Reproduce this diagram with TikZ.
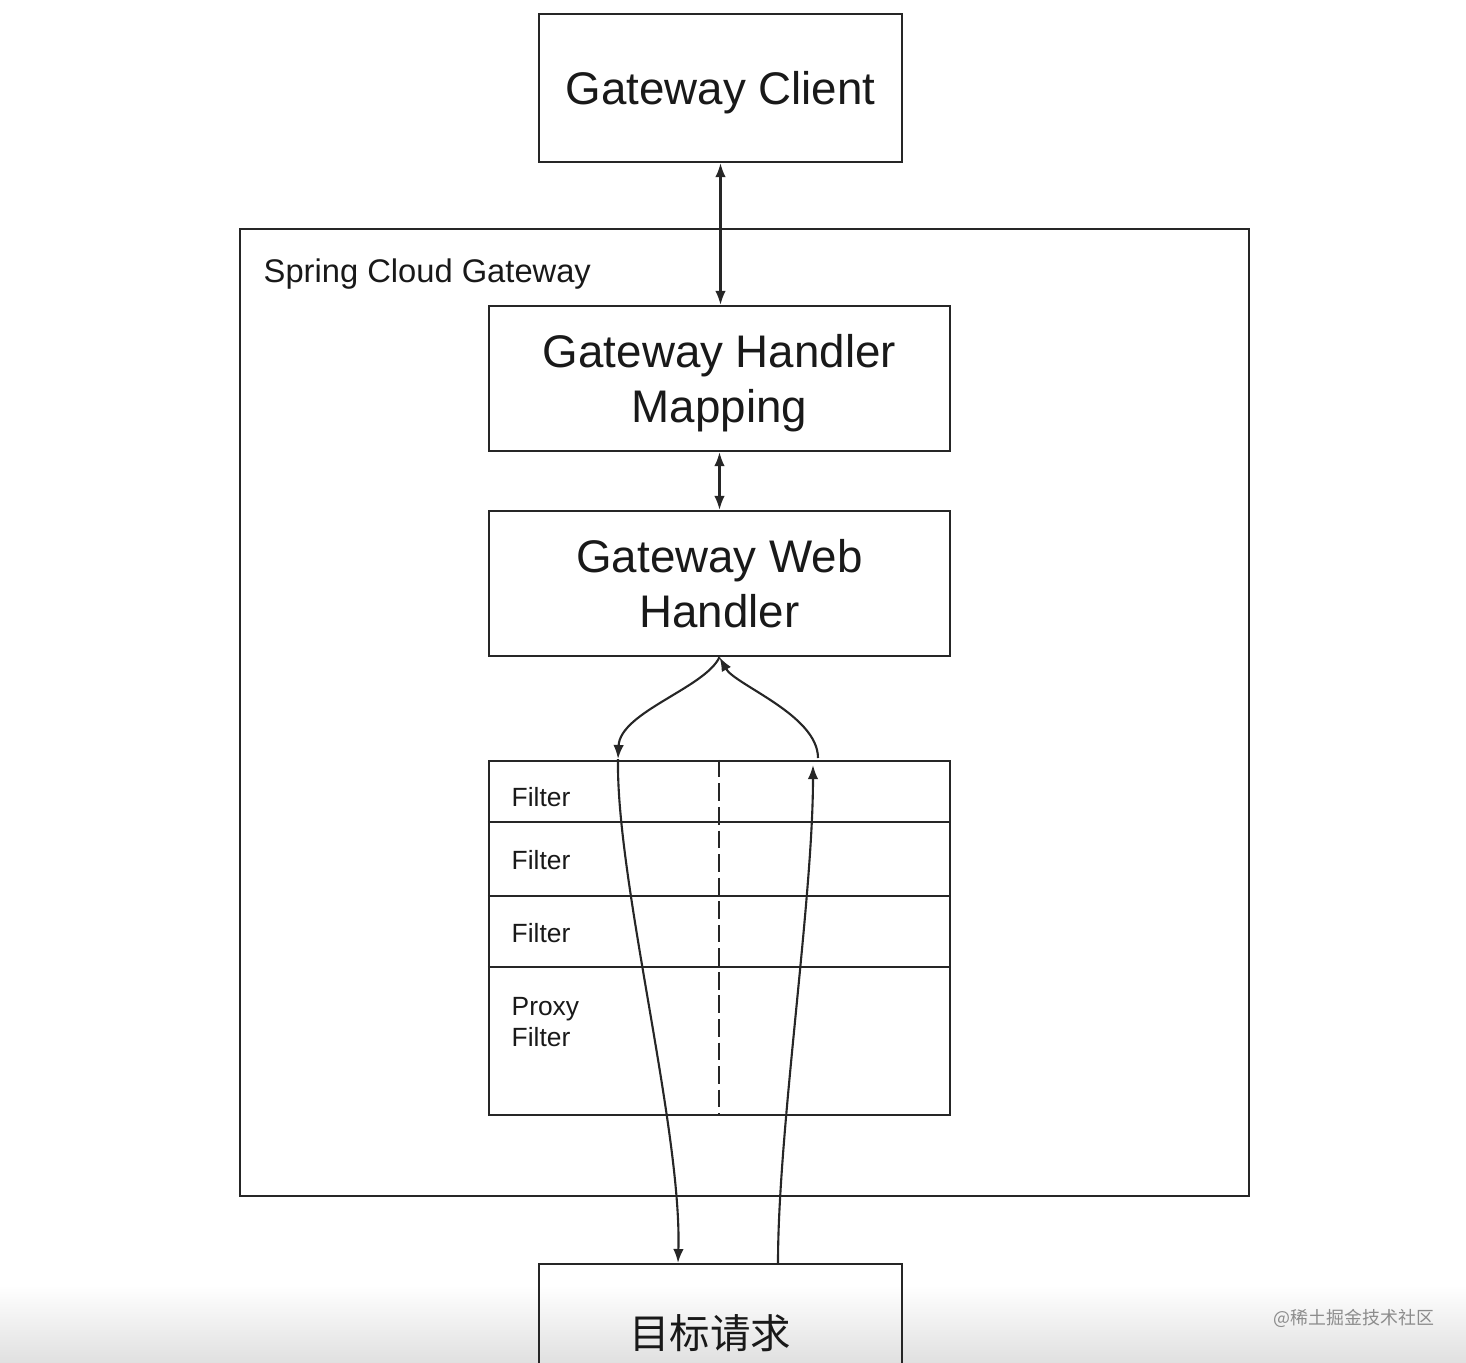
\documentclass[tikz,border=0pt]{standalone}
\usepackage{fontspec}
\setmainfont{Liberation Sans}
\newfontfamily\cjk{Noto Sans CJK SC}
\usepackage{tikz}
\usetikzlibrary{positioning,arrows.meta,calc}

\tikzset{
  box/.style={draw=black!85,line width=0.6pt,inner sep=0pt,align=center,text depth=0pt,text=black!90,font=\fontsize{13}{15.6}\selectfont},
  flt/.style={anchor=west,align=left,inner sep=0pt,text=black!90,font=\fontsize{7.5}{9}\selectfont},
  link/.style={draw=black!85,line width=0.6pt},
  arr/.style={link,-{Latex[length=4pt,width=3pt]}},
  dbl/.style={link,{Latex[length=4pt,width=3pt]}-{Latex[length=4pt,width=3pt]}}
}

\begin{document}
\begin{tikzpicture}[x=0.01cm,y=-0.01cm]
\useasboundingbox (0,0) rectangle (1466,1362);
\clip (0,0) rectangle (1466,1362);
\shade[top color=white,bottom color=black!12] (0,1285) rectangle (1466,1362);

\node[box,minimum width=3.63cm,minimum height=1.48cm] (client) at (720.5,88) {Gateway Client};
\node[draw=black!85,line width=0.6pt,minimum width=10.09cm,minimum height=9.67cm,inner sep=0pt] (gateway) at (744.5,712.5) {};
\node[anchor=west,inner sep=0pt,text=black!90,font=\fontsize{9.3}{11}\selectfont] (gwlabel) at (263,274) {Spring Cloud Gateway};
\node[box,minimum width=4.61cm,minimum height=1.45cm] (mapping) at (719.5,378.5) {Gateway Handler\\Mapping};
\node[box,minimum width=4.61cm,minimum height=1.45cm] (webhandler) at (719.5,583.5) {Gateway Web\\Handler};
\node[box,minimum width=4.61cm,minimum height=3.54cm] (chain) at (719.5,938) {};
\node[box,minimum width=3.63cm,minimum height=1.6cm,anchor=north] (target) at (720.5,1263) {};
\node[inner sep=0pt,text=black!90,font=\cjk\fontsize{11.5}{13}\selectfont] (targetlabel) at (710,1333) {目标请求};
\node[anchor=west,inner sep=0pt,text=black!45,font=\cjk\fontsize{5.1}{6}\selectfont] (mark) at (1273,1318) {@稀土掘金技术社区};

\foreach \y in {822,896,967}
  \draw[link] (chain.west |- 0,\y) -- (chain.east |- 0,\y);
\draw[link,dash pattern=on 5pt off 1.7pt] (chain.north -| 719,0) -- (chain.south -| 719,0);
\foreach \y/\t in {797/Filter,860/Filter,933/Filter,1022/Proxy\\Filter}
  \node[flt] at (511,\y) {\t};

\draw[dbl] (client.south) -- (client.south |- mapping.north);
\draw[dbl] (mapping.south) -- (webhandler.north);

\coordinate (lt) at (618,759);
\coordinate (tl) at (678,1263);
\coordinate (tr) at (778,1263);
\coordinate (rtin) at (813,765);
\coordinate (rtout) at (818,758);
\draw[arr] (webhandler.south) .. controls (705,688) and (620,712) .. (lt);
\draw[arr] (lt) .. controls (616,880) and (682,1130) .. (tl);
\draw[arr] (tr) .. controls (778,1130) and (813,900) .. (rtin);
\draw[arr] (rtout) .. controls (818,715) and (735,685) .. (webhandler.south);
\end{tikzpicture}
\end{document}
